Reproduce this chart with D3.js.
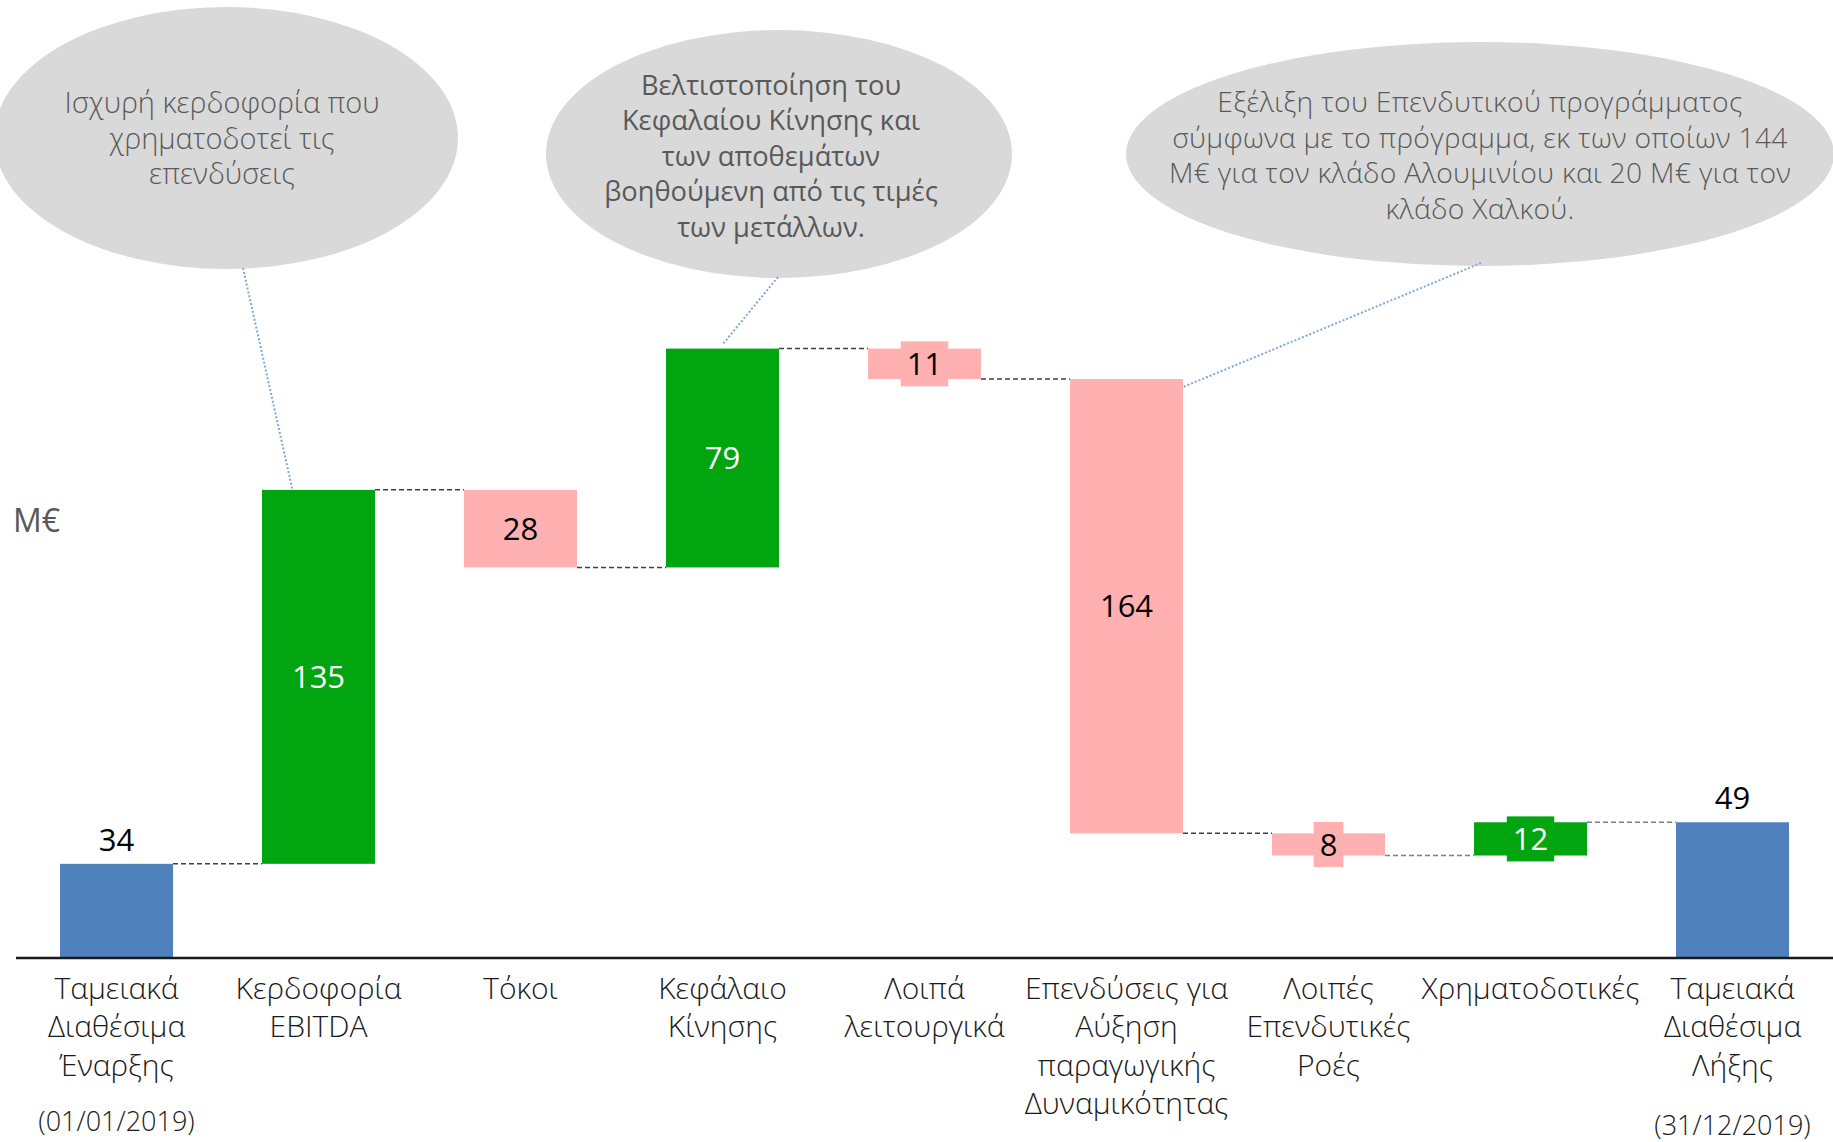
<!DOCTYPE html>
<html>
<head>
<meta charset="utf-8">
<script src="https://cdn.jsdelivr.net/npm/d3@7"></script>
<style>
  html, body { margin: 0; padding: 0; background: #fff; }
  svg { display: block; }
</style>
</head>
<body>
<svg id="chart" width="1833" height="1142"></svg>
<script>
// ---------- data ----------
const categories = [
  ["Ταμειακά", "Διαθέσιμα", "Έναρξης"],
  ["Κερδοφορία", "EBITDA"],
  ["Τόκοι"],
  ["Κεφάλαιο", "Κίνησης"],
  ["Λοιπά", "λειτουργικά"],
  ["Επενδύσεις για", "Αύξηση", "παραγωγικής", "Δυναμικότητας"],
  ["Λοιπές", "Επενδυτικές", "Ροές"],
  ["Χρηματοδοτικές"],
  ["Ταμειακά", "Διαθέσιμα", "Λήξης"]
];
const values = [34, 135, -28, 79, -11, -164, -8, 12, 49];
const barTypes = ["total", "delta", "delta", "delta", "delta", "delta", "delta", "delta", "total"];
const dateLabels = ["(01/01/2019)", "", "", "", "", "", "", "", "(31/12/2019)"];
const unitLabel = "M€";

const calloutTexts = [
  ["Ισχυρή κερδοφορία που", "χρηματοδοτεί τις", "επενδύσεις"],
  ["Βελτιστοποίηση του", "Κεφαλαίου Κίνησης και", "των αποθεμάτων", "βοηθούμενη από τις τιμές", "των μετάλλων."],
  ["Εξέλιξη του Επενδυτικού προγράμματος", "σύμφωνα με το πρόγραμμα, εκ των οποίων 144", "Μ€ για τον κλάδο Αλουμινίου και 20 Μ€ για τον", "κλάδο Χαλκού."]
];
const calloutTargets = [1, 3, 5];

// ---------- layout ----------
const svg = d3.select("#chart");
const W = 1833, H = 1142;
const baseY = 958;
const FONT = "'Open Sans', 'Noto Sans', 'DejaVu Sans', sans-serif";

const colors = { total: "#4F81BD", up: "#00A50F", down: "#FFB0B0" };

// compute running bars
let run = 0;
const bars = values.map((v, i) => {
  let y0, y1;
  if (barTypes[i] === "total") { y0 = 0; y1 = v; run = v; }
  else { y0 = run; y1 = run + v; run = y1; }
  return { i, v, type: barTypes[i], lo: Math.min(y0, y1), hi: Math.max(y0, y1), end: y1 };
});

const x = d3.scaleBand()
  .domain(d3.range(categories.length))
  .range([15.5, 1833.5])
  .paddingInner(0.4406)
  .paddingOuter(0.2203);

const y = d3.scaleLinear().domain([0, 250]).range([baseY, baseY - 250 * 2.77]);

function barColor(b) {
  if (b.type === "total") return colors.total;
  return b.v >= 0 ? colors.up : colors.down;
}

// ---------- callout bubbles ----------
const bubbles = [
  { cx: 226, cy: 138, rx: 232, ry: 131, fs: 29, fw: 300, ls: 0, lh: 35.5, ty: 103, tx: 222, from: [243, 268], tfrac: 0.27, tdy: 0 },
  { cx: 779, cy: 154, rx: 233, ry: 124, fs: 27.3, fw: 400, ls: 0, lh: 35.5, ty: 85, tx: 771, from: [778, 277], tfrac: 0.5, tdy: -4 },
  { cx: 1480, cy: 154, rx: 354, ry: 112, fs: 28.3, fw: 300, ls: 0.3, lh: 35.6, ty: 102, tx: 1480, from: [1481, 263], tfrac: 1.0, tdy: 8 }
];

const gB = svg.append("g");
bubbles.forEach((b, k) => {
  gB.append("ellipse")
    .attr("cx", b.cx).attr("cy", b.cy).attr("rx", b.rx).attr("ry", b.ry)
    .attr("fill", "#D9D9D9");
  const t = gB.append("text")
    .attr("text-anchor", "middle")
    .attr("font-family", FONT)
    .attr("font-size", b.fs)
    .attr("font-weight", b.fw)
    .attr("letter-spacing", b.ls)
    .attr("fill", "#595959");
  calloutTexts[k].forEach((line, j) => {
    t.append("tspan").attr("x", b.tx).attr("y", b.ty + j * b.lh).attr("dy", "0.35em").text(line);
  });
  const bar = bars[calloutTargets[k]];
  const tx = x(bar.i) + x.bandwidth() * b.tfrac;
  const ty = y(bar.hi) + b.tdy;
  gB.append("line")
    .attr("x1", b.from[0]).attr("y1", b.from[1])
    .attr("x2", tx).attr("y2", ty)
    .attr("stroke", "#7FA7DC")
    .attr("stroke-width", 2)
    .attr("stroke-dasharray", "2,2");
});

// ---------- connectors ----------
const gC = svg.append("g");
bars.slice(0, -1).forEach((b, i) => {
  const lvl = b.end;
  gC.append("line")
    .attr("x1", x(i) + x.bandwidth()).attr("x2", x(i + 1))
    .attr("y1", y(lvl)).attr("y2", y(lvl))
    .attr("stroke", i >= 6 ? "#7F7F7F" : "#404040")
    .attr("stroke-width", 1.5)
    .attr("stroke-dasharray", "5,3");
});

// ---------- bars ----------
const gBars = svg.append("g");
gBars.selectAll("rect.bar").data(bars).join("rect")
  .attr("class", "bar")
  .attr("x", d => x(d.i))
  .attr("width", x.bandwidth())
  .attr("y", d => y(d.hi))
  .attr("height", d => y(d.lo) - y(d.hi))
  .attr("fill", barColor);

// ---------- value labels ----------
const gL = svg.append("g");
bars.forEach(b => {
  const cx = x(b.i) + x.bandwidth() / 2;
  if (b.type === "total") {
    gL.append("text")
      .attr("x", cx).attr("y", y(b.hi) - 13)
      .attr("text-anchor", "middle")
      .attr("font-family", FONT).attr("font-size", 31)
      .attr("fill", "#000")
      .text(Math.abs(b.v));
  } else {
    const cy = (y(b.hi) + y(b.lo)) / 2;
    const t = gL.append("text")
      .attr("x", cx).attr("y", cy).attr("dy", "0.36em")
      .attr("text-anchor", "middle")
      .attr("font-family", FONT).attr("font-size", 31)
      .attr("fill", b.v >= 0 ? "#fff" : "#000")
      .text(Math.abs(b.v));
    const bb = t.node().getBBox();
    gL.insert("rect", () => t.node())
      .attr("x", cx - bb.width / 2 - 6).attr("width", bb.width + 12)
      .attr("y", cy - 22.5).attr("height", 45)
      .attr("fill", barColor(b));
  }
});

// ---------- axis ----------
svg.append("line")
  .attr("x1", 16).attr("x2", W).attr("y1", baseY).attr("y2", baseY)
  .attr("stroke", "#1a1a1a").attr("stroke-width", 2.5);

const gX = svg.append("g");
categories.forEach((lines, i) => {
  const cx = x(i) + x.bandwidth() / 2;
  const t = gX.append("text")
    .attr("text-anchor", "middle")
    .attr("font-family", FONT).attr("font-size", 30).attr("font-weight", 300)
    .attr("fill", "#1a1a1a");
  lines.forEach((ln, j) => {
    t.append("tspan").attr("x", cx).attr("y", 999 + j * 38.3).text(ln);
  });
  if (dateLabels[i]) {
    gX.append("text")
      .attr("x", cx).attr("y", i === 0 ? 1131 : 1135)
      .attr("text-anchor", "middle")
      .attr("font-family", FONT).attr("font-size", 27).attr("font-weight", 300)
      .attr("fill", "#1a1a1a")
      .text(dateLabels[i]);
  }
});

// unit label
svg.append("text")
  .attr("x", 13).attr("y", 532)
  .attr("font-family", FONT).attr("font-size", 32)
  .attr("fill", "#595959")
  .text(unitLabel);
</script>
</body>
</html>
